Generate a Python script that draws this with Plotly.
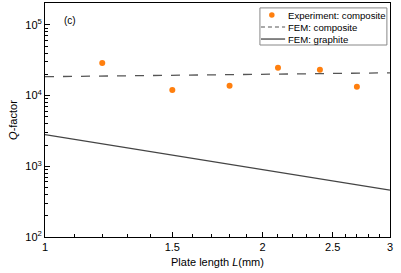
import plotly.graph_objects as go

# Data
exp_L = [1.2, 1.5, 1.8, 2.1, 2.4, 2.7]
exp_Q = [29000, 12000, 13800, 24800, 23200, 13300]
fem_comp_L = [1.0, 3.0]
fem_comp_Q = [18500, 21000]
fem_graph_L = [1.0, 3.0]
fem_graph_Q = [2800, 460]

legend_names = ["Experiment: composite", "FEM: composite", "FEM: graphite"]
x_tickvals = [1, 1.5, 2, 2.5, 3]
x_ticktext = ["1", "1.5", "2", "2.5", "3"]
x_minor = [1.1, 1.2, 1.3, 1.4, 1.6, 1.7, 1.8, 1.9, 2.1, 2.2, 2.3, 2.4, 2.6, 2.7, 2.8, 2.9]
y_tickvals = [1e2, 1e3, 1e4, 1e5]
y_ticktext = ["10<sup>2</sup>", "10<sup>3</sup>", "10<sup>4</sup>", "10<sup>5</sup>"]
y_minor = [m * 10 ** e for e in (2, 3, 4, 5) for m in range(2, 10) if m * 10 ** e < 2e5]

FONT = "Arial, Liberation Sans, sans-serif"
ORANGE = "#FF7F0E"
DASH_C = "#555555"
SOLID_C = "#444444"

fig = go.Figure()
fig.add_trace(go.Scatter(x=exp_L, y=exp_Q, mode="markers", name=legend_names[0],
                         marker=dict(symbol="circle", size=6, color=ORANGE)))
fig.add_trace(go.Scatter(x=fem_comp_L, y=fem_comp_Q, mode="lines", name=legend_names[1],
                         line=dict(color=DASH_C, width=1.3, dash="dash")))
fig.add_trace(go.Scatter(x=fem_graph_L, y=fem_graph_Q, mode="lines", name=legend_names[2],
                         line=dict(color=SOLID_C, width=1.3)))

# compact legend drawn in paper coordinates
lx0, lx1, ly0, ly1 = 0.623, 0.991, 0.8205, 0.979
rows = [0.9487, 0.8974, 0.846]
shapes = [dict(type="rect", xref="paper", yref="paper", x0=lx0, x1=lx1, y0=ly0, y1=ly1,
               line=dict(color="#888888", width=1), fillcolor="white", layer="above")]
annotations = []
shapes.append(dict(type="circle", xref="paper", yref="paper", x0=0.6495, x1=0.6655,
                   y0=rows[0] - 0.0115, y1=rows[0] + 0.0115, fillcolor=ORANGE,
                   line=dict(width=0), layer="above"))
shapes.append(dict(type="line", xref="paper", yref="paper", x0=0.626, x1=0.696,
                   y0=rows[1], y1=rows[1], line=dict(color=DASH_C, width=1.2, dash="4px,3px"), layer="above"))
shapes.append(dict(type="line", xref="paper", yref="paper", x0=0.626, x1=0.696,
                   y0=rows[2], y1=rows[2], line=dict(color=SOLID_C, width=1.3), layer="above"))
for name, ry in zip(legend_names, rows):
    annotations.append(dict(text=name, x=0.699, y=ry, xref="paper", yref="paper", showarrow=False,
                            xanchor="left", yanchor="middle", font=dict(size=9.6)))
annotations.append(dict(text="(c)", x=0.05, y=0.925, xref="paper", yref="paper",
                        showarrow=False, xanchor="left", yanchor="middle", font=dict(size=10)))
# axis titles
annotations.append(dict(text="Plate length <i>L</i>(mm)", x=0.5, y=-0.105, xref="paper", yref="paper",
                        showarrow=False, xanchor="center", yanchor="middle", font=dict(size=11)))
annotations.append(dict(text="<i>Q</i>-factor", x=-0.093, y=0.5, xref="paper", yref="paper", textangle=-90,
                        showarrow=False, xanchor="center", yanchor="middle", font=dict(size=11)))

fig.update_layout(
    width=401, height=273,
    margin=dict(l=45, r=11, t=3, b=36),
    paper_bgcolor="white", plot_bgcolor="white",
    font=dict(family=FONT, size=11, color="black"),
    showlegend=False,
    hovermode=False,
    shapes=shapes,
    annotations=annotations,
)
fig.update_xaxes(
    type="log", range=[0, 0.47715], automargin=False,
    tickmode="array", tickvals=x_tickvals, ticktext=x_ticktext,
    ticks="inside", ticklen=5, tickwidth=1, tickcolor="black",
    showline=True, linecolor="black", linewidth=1, mirror=True,
    showgrid=False, zeroline=False,
    minor=dict(tickmode="array", tickvals=x_minor, ticks="inside", ticklen=3, tickcolor="black", showgrid=False),
)
fig.update_yaxes(
    type="log", range=[2, 5.31], automargin=False,
    tickmode="array", tickvals=y_tickvals, ticktext=y_ticktext,
    ticks="inside", ticklen=5, tickwidth=1, tickcolor="black",
    showline=True, linecolor="black", linewidth=1, mirror=True,
    showgrid=False, zeroline=False,
    minor=dict(tickmode="array", tickvals=y_minor, ticks="inside", ticklen=3, tickcolor="black", showgrid=False),
)

fig.write_html("out.html", config={"displayModeBar": False, "staticPlot": True},
               post_script="document.body.style.margin='0';")
